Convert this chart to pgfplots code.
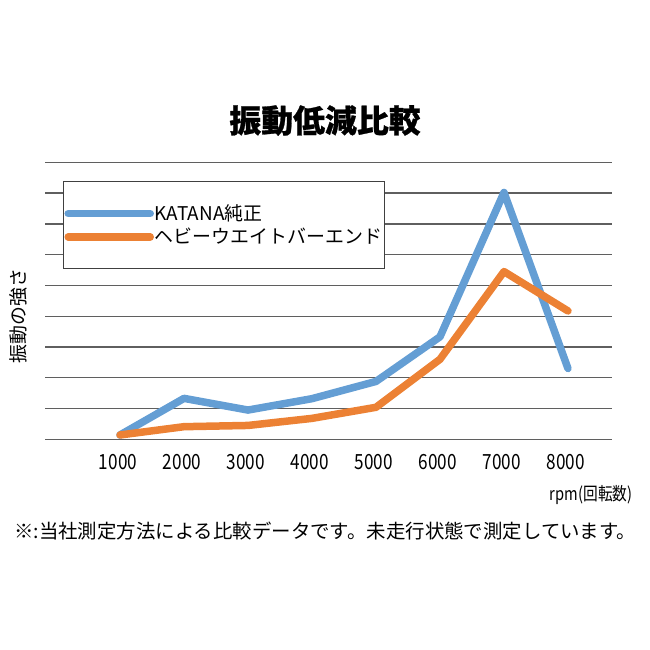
\documentclass[border=0pt]{standalone}
\usepackage{pgfplots}
\pgfplotsset{compat=1.18}
\usepackage{fontspec}
\setmainfont{Noto Sans CJK JP}
\newfontfamily\narrow[FakeStretch=0.82]{Noto Sans CJK JP}
\newfontfamily\titlefont{Noto Sans CJK JP}[BoldFeatures={FakeBold=0.8}]
\definecolor{kblue}{RGB}{100,158,212}
\definecolor{korange}{RGB}{236,129,52}
\definecolor{gridgray}{RGB}{95,95,95}
\begin{document}
\begin{tikzpicture}[x=1bp,y=1bp]
% picture frame, relative to the lower left corner of the plot area
\path (-45,-210.7) rectangle (605,439.3);
\begin{axis}[
    name=ax,
    scale only axis, width=567bp, height=277bp,
    xmin=-172, xmax=8688, ymin=0, ymax=9,
    clip=false,
    axis line style={draw=none},
    major tick length=0,
    xtick={1000,2000,...,8000},
    ytick={0,...,9}, yticklabels={},
    ymajorgrids,
    grid style={draw=gridgray, line width=1.3bp},
    /pgf/number format/.cd, 1000 sep={}, assume math mode=true,
    /pgfplots/.cd,
    xticklabel style={font=\narrow\fontsize{21}{21}\selectfont, yshift=-11bp, xshift=-2bp},
    legend style={at={(axis description cs:0.0317,0.931)}, anchor=north west,
        draw=black!75, line width=1bp, fill=white,
        font=\fontsize{19}{23}\selectfont,
        inner xsep=1bp, inner ysep=22bp, row sep=4bp,
        nodes={inner sep=1bp}},
    legend cell align=left,
    legend image code/.code={\draw[#1, line cap=round] (0bp,0bp) -- (82bp,0bp);},
]
\addplot[kblue, line width=7.5bp, line join=round, line cap=round] coordinates {
    (1000,0.14) (2000,1.33) (3000,0.95) (4000,1.32)
    (5000,1.88) (6000,3.33) (7000,8.02) (8000,2.30)
};
\addlegendentry{KATANA純正}
\addplot[korange, line width=7.5bp, line join=round, line cap=round] coordinates {
    (1000,0.14) (2000,0.41) (3000,0.45) (4000,0.68)
    (5000,1.04) (6000,2.60) (7000,5.45) (8000,4.17)
};
\addlegendentry{ヘビーウエイトバーエンド}
\end{axis}
% title and labels
\node[font=\titlefont\bfseries\fontsize{32}{32}\selectfont] at (280,318.8) {振動低減比較};
\node[rotate=90, font=\fontsize{19}{19}\selectfont] at (-27,123.3) {振動の強さ};
\node[anchor=east, font=\narrow\fontsize{18}{18}\selectfont] at (591,-55.7) {rpm(回転数)};
\node[anchor=west, inner sep=0, font=\fontsize{19.5}{19.5}\selectfont] at (-31,-91.7) {※:当社測定方法による比較データです。未走行状態で測定しています。};
\end{tikzpicture}
\end{document}
